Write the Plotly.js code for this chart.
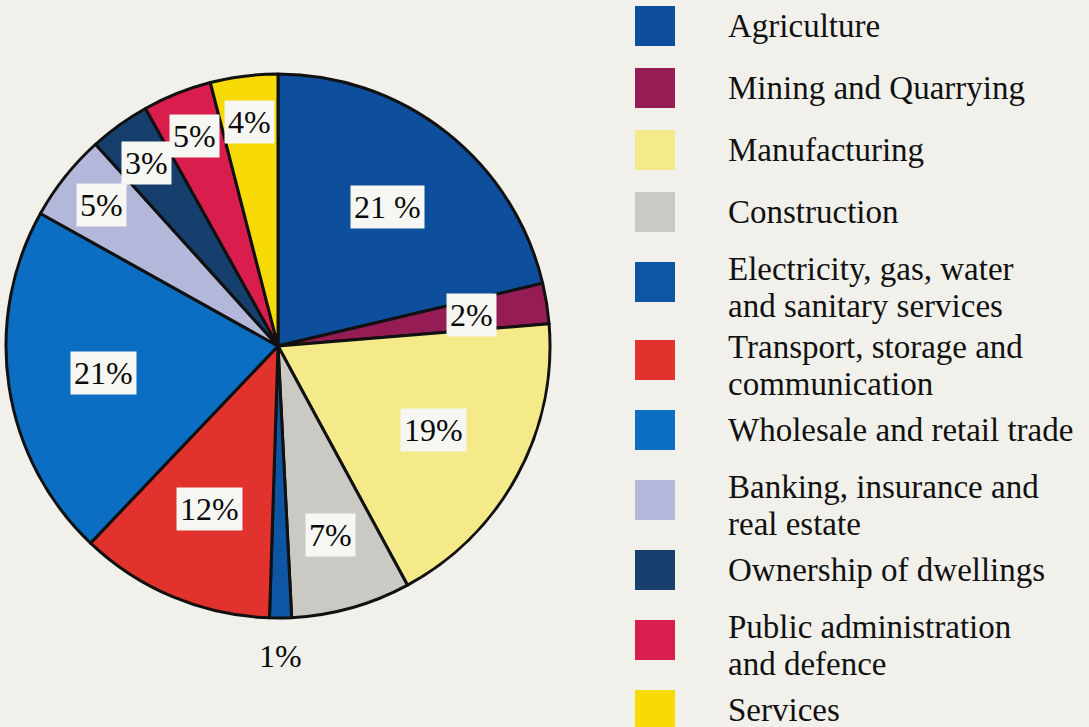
<!DOCTYPE html>
<html>
<head>
<meta charset="utf-8">
<script src="https://cdn.plot.ly/plotly-3.0.1.min.js"></script>
<style>
  html, body { margin: 0; padding: 0; background: #f1f0eb; }
  #chart { width: 1089px; height: 727px; }
</style>
</head>
<body>
<div id="chart"></div>
<script>
// ---- Data ----
const sectors = [
  "Agriculture",
  "Mining and Quarrying",
  "Manufacturing",
  "Construction",
  "Electricity, gas, water<br>and sanitary services",
  "Transport, storage and<br>communication",
  "Wholesale and retail trade",
  "Banking, insurance and<br>real estate",
  "Ownership of dwellings",
  "Public administration<br>and defence",
  "Services"
];
const shares = [21.3, 2.4, 18.4, 7.1, 1.3, 11.6, 21.0, 5.2, 3.6, 4.1, 4.0];
const shareLabels = ["21 %", "2%", "19%", "7%", "1%", "12%", "21%", "5%", "3%", "5%", "4%"];
const sliceColors = [
  "#0d4f9c", "#951c55", "#f5ea8a", "#cbc9c4", "#0e56a4", "#e1322d",
  "#0b6ec2", "#b3b7da", "#173f6e", "#d91d4c", "#f8da07"
];

// ---- Layout constants ----
const W = 1089, H = 727;
const CX = 278, CY = 346, R = 272;     // pie centre / radius in pixels
const FONT = "Liberation Serif, Times New Roman, serif";

const domainX = [(CX - R) / W, (CX + R) / W];
const domainY = [(H - CY - R) / H, (H - CY + R) / H];

const total = shares.reduce((a, b) => a + b, 0);

// label radius rule (fraction of radius) by slice share
function labelRadius(f) {
  if (f < 0.015) return 1.14;   // tiny slice: outside
  if (f < 0.03) return 0.72;
  if (f < 0.06) return 0.83;
  if (f < 0.10) return 0.72;
  return 0.65;
}

const annotations = [];
const shapes = [];
let cum = 0;
shares.forEach((v, i) => {
  const f = v / total;
  const theta = 2 * Math.PI * (cum + f / 2);
  cum += f;
  const rr = labelRadius(f) * R;
  const px = CX + rr * Math.sin(theta);
  const py = CY - rr * Math.cos(theta);
  const outside = f < 0.015;
  annotations.push({
    xref: "paper", yref: "paper",
    x: px / W, y: 1 - py / H,
    xanchor: "center", yanchor: "middle",
    text: shareLabels[i],
    showarrow: false,
    font: { family: FONT, size: 32, color: "#0a0a0a" },
    bgcolor: outside ? "rgba(0,0,0,0)" : "#f6f6f2",
    borderpad: 3
  });
});

// ---- Custom legend (large colour squares + serif text) ----
const LEG_SQ_X0 = 635, LEG_SQ = 40, LEG_TEXT_X = 726;
const LEG_TOP = 26, LEG_BASE = 62, LEG_EXTRA = 8, LEG_LINE = 37;
let ly = LEG_TOP;
sectors.forEach((name, i) => {
  const lines = name.split("<br>");
  if (i > 0) {
    const prevLines = sectors[i - 1].split("<br>").length;
    ly += LEG_BASE + LEG_EXTRA * (prevLines - 1) + LEG_EXTRA * (lines.length - 1);
  }
  shapes.push({
    type: "rect", xref: "paper", yref: "paper",
    x0: LEG_SQ_X0 / W, x1: (LEG_SQ_X0 + LEG_SQ) / W,
    y0: 1 - (ly + LEG_SQ / 2) / H, y1: 1 - (ly - LEG_SQ / 2) / H,
    fillcolor: sliceColors[i], line: { width: 0 }
  });
  const blockCenter = lines.length > 1 ? ly + 5 : ly;
  lines.forEach((t, k) => {
    const ty = blockCenter + (k - (lines.length - 1) / 2) * LEG_LINE;
    annotations.push({
      xref: "paper", yref: "paper",
      x: LEG_TEXT_X / W, y: 1 - ty / H,
      xanchor: "left", yanchor: "middle",
      text: t, showarrow: false,
      font: { family: FONT, size: 33, color: "#111" }
    });
  });
});

const trace = {
  type: "pie",
  labels: sectors,
  values: shares,
  sort: false,
  direction: "clockwise",
  rotation: 0,
  textinfo: "none",
  hoverinfo: "none",
  showlegend: false,
  domain: { x: domainX, y: domainY },
  marker: { colors: sliceColors, line: { color: "#111", width: 3 } }
};

const layout = {
  width: W, height: H,
  margin: { l: 0, r: 0, t: 0, b: 0, pad: 0 },
  paper_bgcolor: "#f1f0eb",
  plot_bgcolor: "#f1f0eb",
  showlegend: false,
  annotations: annotations,
  shapes: shapes
};

Plotly.newPlot("chart", [trace], layout, { staticPlot: true, displayModeBar: false });
</script>
</body>
</html>
